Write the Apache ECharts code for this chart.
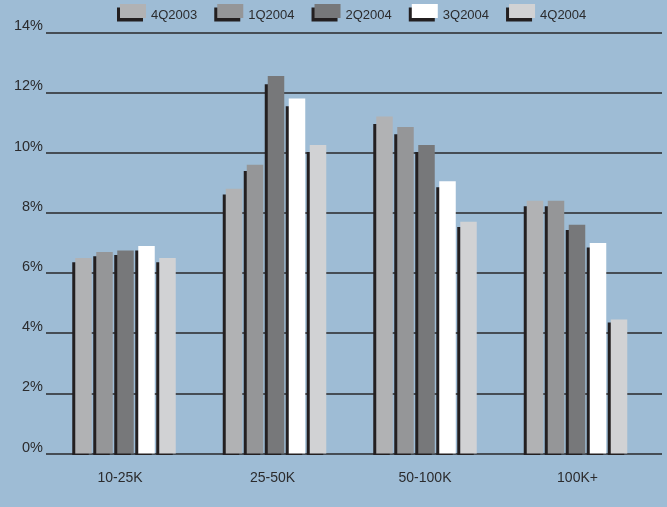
<!DOCTYPE html>
<html>
<head>
<meta charset="utf-8">
<script src="https://cdn.jsdelivr.net/npm/echarts@6/dist/echarts.min.js"></script>
<style>
  html, body { margin: 0; padding: 0; background: #9ebcd5; }
  #chart { width: 667px; height: 507px; }
</style>
</head>
<body>
<div id="chart"></div>
<script>
// Income bands on the category axis
const categories = ['10-25K', '25-50K', '50-100K', '100K+'];

// Quarter names for the legend
const quarters = ['4Q2003', '1Q2004', '2Q2004', '3Q2004', '4Q2004'];

// Share (%) per income band, one array per quarter
const q4_2003 = [6.5, 8.8, 11.2, 8.4];
const q1_2004 = [6.7, 9.6, 10.85, 8.4];
const q2_2004 = [6.75, 12.55, 10.25, 7.6];
const q3_2004 = [6.9, 11.8, 9.05, 7.0];
const q4_2004 = [6.5, 10.25, 7.7, 4.45];

// Value-axis ticks
const yTicks = [0, 2, 4, 6, 8, 10, 12, 14];

const seriesValues = [q4_2003, q1_2004, q2_2004, q3_2004, q4_2004];
const colors = ['#b1b2b4', '#959698', '#77787a', '#ffffff', '#d1d2d4'];
const SHADOW = '#231f20';
const TEXT = '#2b2b2d';
const FONT = 'Liberation Sans, Arial, sans-serif';

const BAR_W = 16.5;   // face width in px
const PITCH = 21;     // distance between bars in a group
const SHIFT_X = 3;    // shadow shift to the left

// Legend swatch: a 26x14 block sitting at the top of a 26x22 box
// (the zero-area stroke only widens the box so the label sits lower)
const LEGEND_ICON = 'path://M0,0H26V14H0ZM0,22H26';

function barRenderer(idx) {
  const n = seriesValues.length;
  return function (params, api) {
    const cat = api.value(0);
    const val = api.value(1);
    const top = api.coord([cat, val]);
    const base = api.coord([cat, 0]);
    const cx = top[0] + (idx - (n - 1) / 2) * PITCH;
    const x = cx - BAR_W / 2;
    const h = base[1] - top[1];
    const dy = Math.max(2, h * 0.022);
    return {
      type: 'group',
      children: [
        {
          type: 'rect',
          shape: { x: x - SHIFT_X, y: top[1] + dy, width: BAR_W, height: h - dy + 1.5 },
          style: { fill: SHADOW }
        },
        {
          type: 'rect',
          shape: { x: x, y: top[1], width: BAR_W, height: h },
          style: { fill: colors[idx] }
        }
      ]
    };
  };
}

const chart = echarts.init(document.getElementById('chart'), null, { renderer: 'canvas' });

const option = {
  backgroundColor: '#9ebcd5',
  animation: false,
  textStyle: { fontFamily: FONT },
  legend: {
    data: quarters,
    left: 120,
    top: 4,
    padding: 0,
    icon: LEGEND_ICON,
    itemWidth: 26,
    itemHeight: 22,
    itemGap: 20,
    itemStyle: {
      borderWidth: 0,
      shadowColor: SHADOW,
      shadowBlur: 0,
      shadowOffsetX: -3,
      shadowOffsetY: 3.5
    },
    textStyle: { color: TEXT, fontSize: 13, fontFamily: FONT }
  },
  grid: [
    // gridlines and percent labels
    { left: 46, right: 5, top: 32.3, bottom: 53.5 },
    // bar groups
    { left: 50.25, right: 14.75, top: 32.3, bottom: 53.5 },
    // band labels
    { left: 43.75, right: 13.25, top: 32.3, bottom: 53.5 }
  ],
  xAxis: [
    { type: 'value', gridIndex: 0, show: false, min: 0, max: 1 },
    { type: 'category', gridIndex: 1, data: categories, show: false },
    {
      type: 'category',
      gridIndex: 2,
      data: categories,
      axisLine: { show: false },
      axisTick: { show: false },
      axisLabel: { color: TEXT, fontSize: 14, fontFamily: FONT, margin: 17.5 }
    }
  ],
  yAxis: [
    {
      type: 'value',
      gridIndex: 0,
      min: yTicks[0],
      max: yTicks[yTicks.length - 1],
      interval: yTicks[1] - yTicks[0],
      axisLine: { show: false },
      axisTick: { show: false },
      axisLabel: {
        color: TEXT,
        fontSize: 14.5,
        fontFamily: FONT,
        margin: 3,
        formatter: '{value}%',
        verticalAlign: 'bottom',
        lineHeight: 12
      },
      splitLine: { show: true, lineStyle: { color: '#28282a', width: 1.5 } }
    },
    {
      type: 'value',
      gridIndex: 1,
      min: yTicks[0],
      max: yTicks[yTicks.length - 1],
      show: false,
      splitLine: { show: false }
    },
    {
      type: 'value',
      gridIndex: 2,
      min: yTicks[0],
      max: yTicks[yTicks.length - 1],
      show: false,
      splitLine: { show: false }
    }
  ],
  series: seriesValues.map((vals, idx) => ({
    name: quarters[idx],
    type: 'custom',
    xAxisIndex: 1,
    yAxisIndex: 1,
    itemStyle: { color: colors[idx] },
    encode: { x: 0, y: 1 },
    data: vals.map((v, i) => [i, v]),
    renderItem: barRenderer(idx)
  }))
};

chart.setOption(option);
</script>
</body>
</html>
